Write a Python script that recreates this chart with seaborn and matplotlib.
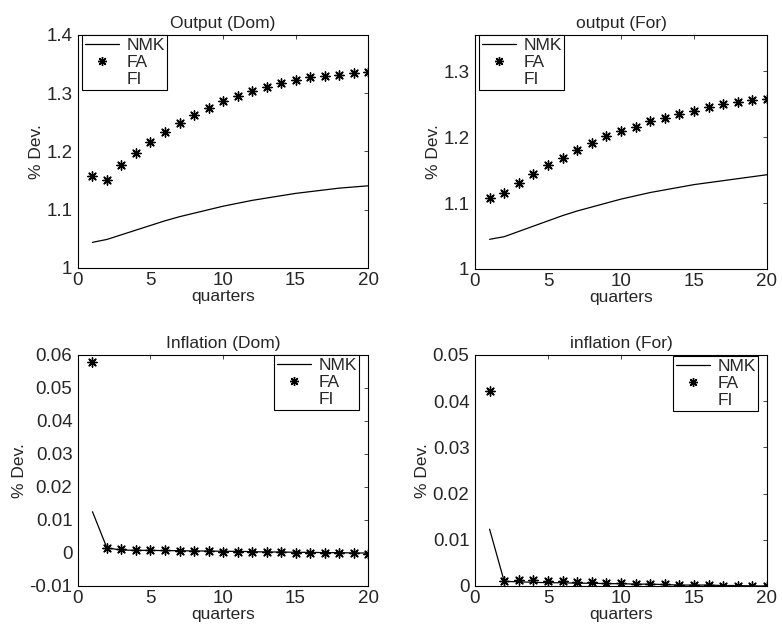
import numpy as np
import pandas as pd
import matplotlib
matplotlib.use("Agg")
import matplotlib.pyplot as plt
from matplotlib.lines import Line2D
import seaborn as sns

quarters = list(range(1, 21))

out_dom_nmk = [1.044, 1.049, 1.057, 1.065, 1.073, 1.081, 1.088, 1.094, 1.100, 1.106,
               1.111, 1.116, 1.120, 1.124, 1.128, 1.131, 1.134, 1.137, 1.139, 1.141]
out_dom_fa = [1.158, 1.151, 1.176, 1.197, 1.217, 1.234, 1.249, 1.263, 1.275, 1.286,
              1.295, 1.304, 1.311, 1.318, 1.323, 1.327, 1.330, 1.332, 1.334, 1.336]

out_for_nmk = [1.045, 1.049, 1.057, 1.065, 1.073, 1.081, 1.088, 1.094, 1.100, 1.106,
               1.111, 1.116, 1.120, 1.124, 1.128, 1.131, 1.134, 1.137, 1.140, 1.143]
out_for_fa = [1.107, 1.116, 1.130, 1.144, 1.158, 1.169, 1.180, 1.191, 1.201, 1.209,
              1.216, 1.224, 1.229, 1.235, 1.240, 1.245, 1.250, 1.254, 1.256, 1.258]

inf_dom_nmk = [0.0125, 0.0015, 0.0009, 0.0008, 0.0008, 0.0007, 0.0007, 0.0006, 0.0006, 0.0005,
               0.0005, 0.0004, 0.0003, 0.0003, 0.0002, 0.0002, 0.0001, 0.0001, 0.0000, 0.0000]
inf_dom_fa = [0.0578, 0.0015, 0.0011, 0.0010, 0.0009, 0.0008, 0.0007, 0.0006, 0.0005, 0.0004,
              0.0004, 0.0003, 0.0002, 0.0002, 0.0001, 0.0001, 0.0000, 0.0000, -0.0001, -0.0002]

inf_for_nmk = [0.0123, 0.0010, 0.0009, 0.0008, 0.0007, 0.0007, 0.0006, 0.0006, 0.0005, 0.0005,
               0.0004, 0.0004, 0.0003, 0.0002, 0.0002, 0.0002, 0.0001, 0.0001, 0.0000, 0.0000]
inf_for_fa = [0.0422, 0.0011, 0.0014, 0.0012, 0.0011, 0.0010, 0.0009, 0.0008, 0.0007, 0.0006,
              0.0005, 0.0005, 0.0004, 0.0003, 0.0002, 0.0002, 0.0001, 0.0001, 0.0000, 0.0000]

titles = ["Output (Dom)", "output (For)", "Inflation (Dom)", "inflation (For)"]
series_labels = ["NMK", "FA", "FI"]

sns.set_style("white")
plt.rcParams["font.family"] = ["Liberation Sans", "DejaVu Sans"]

fig = plt.figure(figsize=(7.82, 6.35), dpi=100)

positions = [
    [0.0997, 0.578, 0.371, 0.367],
    [0.6074, 0.5764, 0.3734, 0.3685],
    [0.0997, 0.0772, 0.371, 0.3638],
    [0.6074, 0.0772, 0.3734, 0.3638],
]
panels = [
    (out_dom_nmk, out_dom_fa, (1.0, 1.4), [1.0, 1.1, 1.2, 1.3, 1.4], "upper left", (0.014, 1.0)),
    (out_for_nmk, out_for_fa, (1.0, 1.355), [1.0, 1.1, 1.2, 1.3], "upper left", (0.014, 1.0)),
    (inf_dom_nmk, inf_dom_fa, (-0.01, 0.06), [-0.01, 0, 0.01, 0.02, 0.03, 0.04, 0.05, 0.06],
     "upper right", (0.97, 1.0)),
    (inf_for_nmk, inf_for_fa, (0.0, 0.05), [0, 0.01, 0.02, 0.03, 0.04, 0.05],
     "upper right", (0.97, 0.995)),
]

asterisk = (8, 2, 0)

for pos, title, (nmk, fa, ylim, yticks, loc, anchor) in zip(positions, titles, panels):
    ax = fig.add_axes(pos)
    df = pd.DataFrame({"q": quarters, "NMK": nmk, "FA": fa})
    sns.lineplot(data=df, x="q", y="NMK", ax=ax, color="black", linewidth=0.9)
    sns.scatterplot(data=df, x="q", y="FA", ax=ax, marker=asterisk, s=45,
                    color="black", edgecolor="black", linewidth=1.0)
    ax.set_xlim(0, 20)
    ax.set_ylim(*ylim)
    ax.set_xticks([0, 5, 10, 15, 20])
    ax.set_yticks(yticks)
    ax.set_yticklabels([f"{t:g}" for t in yticks])
    ax.set_title(title, fontsize=12.5, pad=5)
    ax.set_xlabel("quarters", fontsize=12.5, labelpad=0)
    ax.set_ylabel("% Dev.", fontsize=12.5, labelpad=2)
    ax.tick_params(direction="in", length=3, width=0.6, labelsize=13.5,
                   top=True, right=True)
    ax.tick_params(axis="y", pad=4)
    ax.tick_params(axis="x", pad=3)
    for s in ax.spines.values():
        s.set_visible(True)
        s.set_color("black")
        s.set_linewidth(0.8)

    handles = [
        Line2D([], [], color="black", linewidth=0.9),
        Line2D([], [], color="black", linestyle="none", marker=asterisk,
               markersize=6.5, markeredgewidth=1.0),
        Line2D([], [], color="none", linewidth=0.9),
    ]
    leg = ax.legend(handles, series_labels, loc=loc, bbox_to_anchor=anchor,
                    fontsize=12.5, frameon=True, fancybox=False, framealpha=1,
                    edgecolor="black", handlelength=2.0, handletextpad=0.4,
                    labelspacing=0.12, borderpad=0.15, borderaxespad=0.0)
    leg.get_frame().set_linewidth(0.8)

fig.savefig("out.png", dpi=100, facecolor="white")
